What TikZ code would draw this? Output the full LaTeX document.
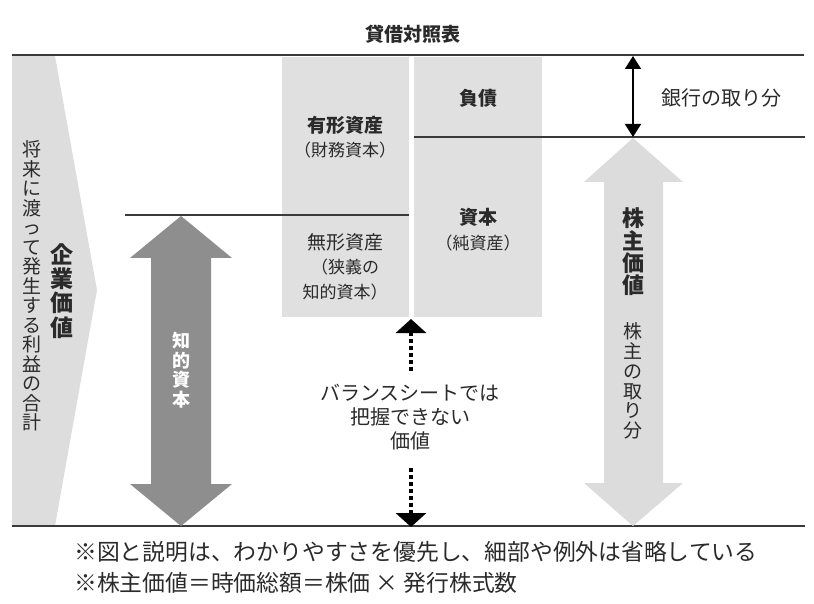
\documentclass[tikz,border=0pt]{standalone}
\usepackage{fontspec}
\setmainfont{Noto Sans CJK JP}
\usetikzlibrary{arrows.meta}
\definecolor{linec}{HTML}{3A3A3A}
\definecolor{boxgray}{HTML}{E0E0E0}
\definecolor{chevgray}{HTML}{DDDDDD}
\definecolor{darkarrow}{HTML}{8E8E8E}
\definecolor{lightarrow}{HTML}{DCDCDC}
\definecolor{txt}{HTML}{2A2A2A}
\tikzset{
  rule/.style={draw=linec, line width=1.4pt},
  bsbox/.style={fill=boxgray, draw=none, inner sep=0pt, anchor=north west},
  lbl/.style={inner sep=0pt, text=txt, align=center},
  head/.style={lbl, font=\fontsize{19}{22}\selectfont\bfseries},
  sub/.style={lbl, font=\fontsize{17}{25}\selectfont},
  dotline/.style={draw=black, line width=3.5pt, dash pattern=on 3.5pt off 3.5pt},
  tri/.tip={Triangle[width=30pt,length=14pt]},
  btri/.tip={Triangle[width=16pt,length=13pt]}
}
\begin{document}
\begin{tikzpicture}[x=1pt,y=-1pt]
\useasboundingbox (0,0) rectangle (814,604);
% enterprise value chevron
\fill[chevgray] (12,56) -- (55,56) -- (97,290) -- (55,526) -- (12,526) -- cycle;
% balance sheet boxes
\node[bsbox, minimum width=127pt, minimum height=260pt] (assets) at (282,57) {};
\node[bsbox, minimum width=128pt, minimum height=260pt] (claims) at (414,57) {};
% rules
\draw[rule] (12,55) -- (804,55);
\draw[rule] (12,526) -- (805,526);
\draw[rule] (125,215) -- (409,215);
\draw[rule] (414,137) -- (805,137);
% intellectual capital arrow
\fill[darkarrow] (181,216) -- (232,258) -- (211,258) -- (211,484) -- (232,484) -- (181,526)
  -- (130,484) -- (151,484) -- (151,258) -- (130,258) -- cycle;
% shareholder value arrow
\fill[lightarrow] (633,138) -- (683,182) -- (663,182) -- (663,483) -- (683,483) -- (633,526)
  -- (584,483) -- (604,483) -- (604,182) -- (584,182) -- cycle;
% bank arrow
\coordinate (bankTop) at (633,56);
\coordinate (bankBot) at (633,137);
\draw[line width=1.8pt, btri-btri] (bankTop) -- (bankBot);
% texts
\node[lbl, font=\fontsize{19}{22}\selectfont\bfseries] (title) at (413,34) {貸借対照表};
\node[head] (tangible) at (345,125) {有形資産};
\node[sub] (tangsub) at (345,150) {（財務資本）};
\node[lbl, font=\fontsize{19}{22}\selectfont] (intangible) at (345,242) {無形資産};
\node[sub] (intsub) at (345,280) {（狭義の\\知的資本）};
\node[head] (debt) at (478,98) {負債};
\node[head] (equity) at (478,217) {資本};
\node[sub] (equsub) at (478,243) {（純資産）};
\node[lbl, font=\fontsize{20}{22}\selectfont] (bankshare) at (721,98) {銀行の取り分};
% vertical texts
\node[lbl, font=\fontsize{19}{19.5}\selectfont] (future) at (32,286)
  {将\\来\\に\\渡\\っ\\て\\発\\生\\す\\る\\利\\益\\の\\合\\計};
\node[lbl, font=\fontsize{23}{24.3}\selectfont\bfseries] (ev) at (62,291) {企\\業\\価\\値};
\node[lbl, text=white, font=\fontsize{18}{19.5}\selectfont\bfseries] (ic) at (181,370) {知\\的\\資\\本};
\node[lbl, font=\fontsize{22}{22.3}\selectfont\bfseries] (sv) at (633,252) {株\\主\\価\\値};
\node[lbl, font=\fontsize{19}{19.7}\selectfont] (svshare) at (633,381) {株\\主\\の\\取\\り\\分};
% hidden value
\node[lbl, font=\fontsize{20}{24}\selectfont] (hidden) at (410,417) {バランスシートでは\\把握できない\\価値};
\coordinate (dTop) at (411,319);
\coordinate (dTopEnd) at (411,374);
\coordinate (dBotStart) at (411,468);
\coordinate (dBot) at (411,527);
\draw[dotline, tri-] (dTop) -- (dTopEnd);
\draw[dotline, -tri] (dBotStart) -- (dBot);
% footnotes
\node[lbl, anchor=west, font=\fontsize{22.8}{26}\selectfont] (note1) at (74,552)
  {※図と説明は、わかりやすさを優先し、細部や例外は省略している};
\node[lbl, anchor=west, font=\fontsize{22.8}{26}\selectfont] (note2) at (74,583)
  {※株主価値＝時価総額＝株価 × 発行株式数};
\end{tikzpicture}
\end{document}
